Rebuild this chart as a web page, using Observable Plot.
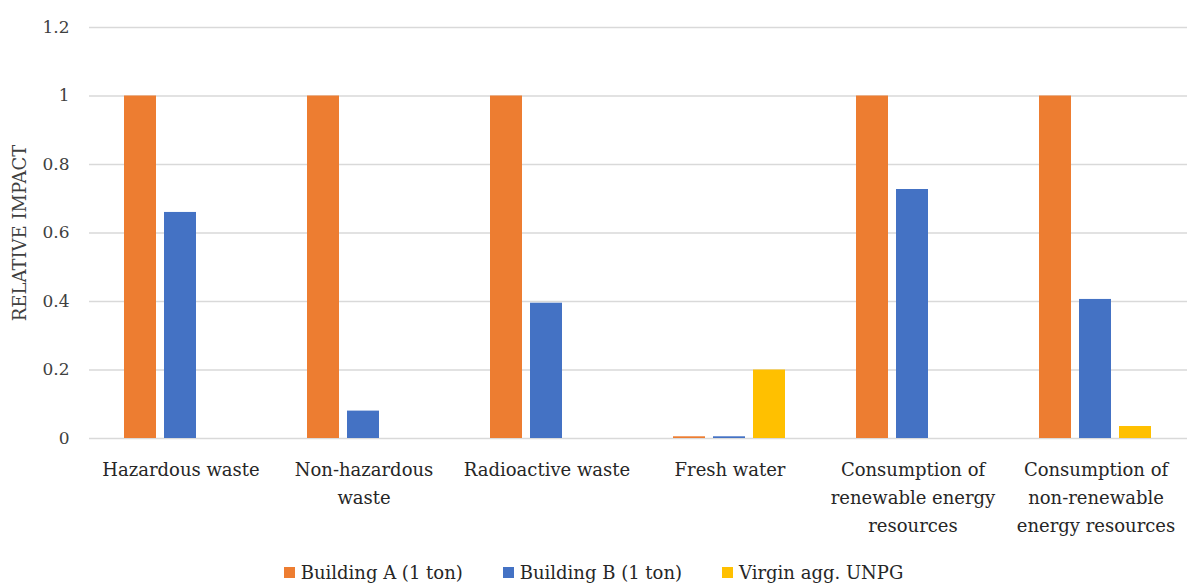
<!DOCTYPE html>
<html>
<head>
<meta charset="utf-8">
<script src="https://cdn.jsdelivr.net/npm/d3@7"></script>
<script src="https://cdn.jsdelivr.net/npm/@observablehq/plot@0.6"></script>
<style>
  body { margin: 0; background: #fff; font-family: "DejaVu Serif", serif; }
  #chart svg { display: block; }
  #legend { display: flex; justify-content: center; align-items: center; gap: 40px; font-size: 18px; color: #262626; height: 34px; padding-left: 0px; }
  #legend .item { display: flex; align-items: center; }
  #legend .sw { width: 11px; height: 11px; margin-right: 6px; display: inline-block; }
</style>
</head>
<body>
<div id="chart"></div>
<div id="legend"></div>
<script>
const categories = [
  "Hazardous waste",
  "Non-hazardous waste",
  "Radioactive waste",
  "Fresh water",
  "Consumption of renewable energy resources",
  "Consumption of non-renewable energy resources"
];
const categoryLabels = [
  "Hazardous waste",
  "Non-hazardous\nwaste",
  "Radioactive waste",
  "Fresh water",
  "Consumption of\nrenewable energy\nresources",
  "Consumption of\nnon-renewable\nenergy resources"
];
const seriesNames = ["Building A (1 ton)", "Building B (1 ton)", "Virgin agg. UNPG"];
const buildingA = [1, 1, 1, 0.005, 1, 1];
const buildingB = [0.66, 0.08, 0.395, 0.005, 0.727, 0.406];
const virginAgg = [0, 0, 0, 0.2, 0, 0.035];
const seriesColors = ["#ED7D31", "#4472C4", "#FFC000"];
const yTicks = [0, 0.2, 0.4, 0.6, 0.8, 1, 1.2];

const seriesValues = [buildingA, buildingB, virginAgg];
const data = categories.flatMap((c, i) =>
  seriesNames.map((s, j) => ({category: c, series: s, value: seriesValues[j][i]}))
);
const labelOf = new Map(categories.map((c, i) => [c, categoryLabels[i]]));

const chart = Plot.plot({
  width: 1187,
  height: 555,
  marginLeft: 89,
  marginRight: 0,
  marginTop: 27,
  marginBottom: 117,
  style: {fontFamily: "DejaVu Serif, serif", fontSize: "17px", color: "#404040", background: "#fff"},
  fx: {domain: categories, padding: 0},
  x: {domain: seriesNames, paddingInner: 0.195, paddingOuter: 0.83},
  y: {domain: [0, 1.2]},
  color: {domain: seriesNames, range: seriesColors},
  marks: [
    Plot.gridY(yTicks, {stroke: "#d9d9d9", strokeOpacity: 1, strokeWidth: 1.3}),
    Plot.barY(data, {fx: "category", x: "series", y: "value", fill: "series"}),
    Plot.axisX({ticks: [], label: null}),
    Plot.axisFx({
      anchor: "bottom",
      tickSize: 0, tickPadding: 18, label: null,
      tickFormat: d => labelOf.get(d), lineHeight: 1.55,
      fontSize: 18,
      fill: "#262626"
    }),
    Plot.axisY({
      ticks: yTicks, tickSize: 0, tickPadding: 20,
      tickFormat: d => String(d),
      fill: "#404040",
      label: null
    }),
    Plot.axisY({
      ticks: [], tickSize: 0,
      label: "RELATIVE IMPACT", labelAnchor: "center", labelArrow: "none", labelOffset: 76,
      fontSize: 18,
      fill: "#404040"
    })
  ]
});
document.getElementById("chart").appendChild(chart);

const legend = document.getElementById("legend");
seriesNames.forEach((s, i) => {
  const item = document.createElement("div");
  item.className = "item";
  const sw = document.createElement("span");
  sw.className = "sw";
  sw.style.background = seriesColors[i];
  item.appendChild(sw);
  item.appendChild(document.createTextNode(s));
  legend.appendChild(item);
});
</script>
</body>
</html>
